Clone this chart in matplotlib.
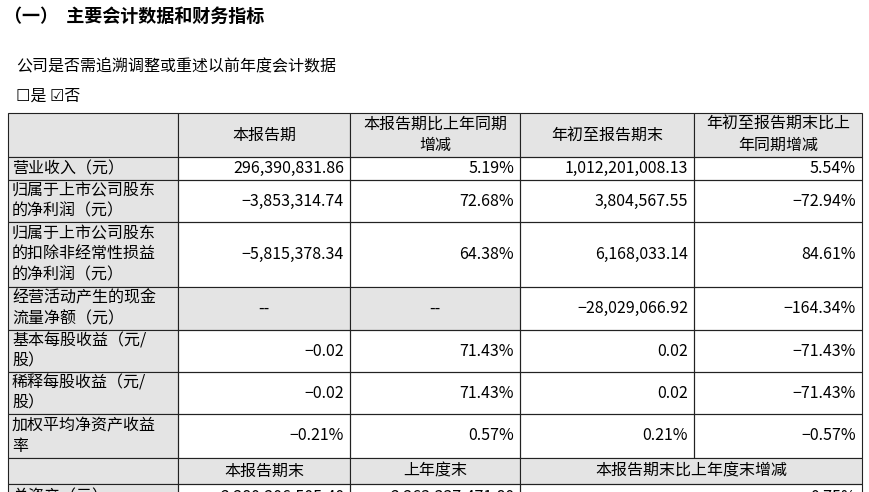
import matplotlib
matplotlib.use("Agg")
import matplotlib.pyplot as plt
from matplotlib.patches import Rectangle

plt.rcParams["font.family"] = ["Noto Sans CJK SC", "DejaVu Sans"]

title = "（一）  主要会计数据和财务指标"
subtitle = "公司是否需追溯调整或重述以前年度会计数据"
checkbox = "☐是 ☑否"
headers = ["", "本报告期", "本报告期比上年同期\n增减", "年初至报告期末", "年初至报告期末比上\n年同期增减"]
row_labels = ["营业收入（元）", "归属于上市公司股东\n的净利润（元）", "归属于上市公司股东\n的扣除非经常性损益\n的净利润（元）",
              "经营活动产生的现金\n流量净额（元）", "基本每股收益（元/\n股）", "稀释每股收益（元/\n股）", "加权平均净资产收益\n率"]
col_current = ["296,390,831.86", "-3,853,314.74", "-5,815,378.34", "--", "-0.02", "-0.02", "-0.21%"]
col_current_chg = ["5.19%", "72.68%", "64.38%", "--", "71.43%", "71.43%", "0.57%"]
col_ytd = ["1,012,201,008.13", "3,804,567.55", "6,168,033.14", "-28,029,066.92", "0.02", "0.02", "0.21%"]
col_ytd_chg = ["5.54%", "-72.94%", "84.61%", "-164.34%", "-71.43%", "-71.43%", "-0.57%"]
headers2 = ["", "本报告期末", "上年度末", "本报告期末比上年度末增减"]
last_row = ["总资产（元）", "2,280,206,505.40", "2,263,337,471.80", "0.75%"]

W, H = 870, 492
fig = plt.figure(figsize=(W/100, H/100), dpi=100)
ax = fig.add_axes([0, 0, 1, 1])
ax.set_xlim(0, W); ax.set_ylim(H, 0); ax.axis("off")

xs = [8, 178, 350, 520, 694, 862]
ys = [113, 157, 180, 222, 287, 330, 372, 414, 458, 484, 510]
grey = "#e4e4e4"
fs = 11.5

ax.text(4, 16, title, fontsize=13, fontweight="bold", va="center")
ax.text(16, 67, subtitle, fontsize=fs, va="center")
ax.text(16, 96, checkbox, fontsize=fs, va="center")

def rect(x0, y0, x1, y1, fill=None):
    ax.add_patch(Rectangle((x0, y0), x1-x0, y1-y0, facecolor=fill if fill else "none",
                           edgecolor="#222222", lw=0.8, zorder=1))

for i in range(5):
    rect(xs[i], ys[0], xs[i+1], ys[1], grey)
    if headers[i]:
        ax.text((xs[i]+xs[i+1])/2, (ys[0]+ys[1])/2, headers[i], fontsize=fs, ha="center", va="center",
                linespacing=1.3, zorder=3)
cols = [col_current, col_current_chg, col_ytd, col_ytd_chg]
for r in range(7):
    y0, y1 = ys[r+1], ys[r+2]
    rect(xs[0], y0, xs[1], y1, grey)
    ax.text(xs[0]+4, (y0+y1)/2, row_labels[r], fontsize=fs, ha="left", va="center", linespacing=1.3, zorder=3)
    for c in range(4):
        v = cols[c][r]
        fill = grey if v == "--" else None
        rect(xs[c+1], y0, xs[c+2], y1, fill)
        if v == "--":
            ax.text((xs[c+1]+xs[c+2])/2, (y0+y1)/2, v, fontsize=fs, ha="center", va="center", zorder=3)
        else:
            ax.text(xs[c+2]-6, (y0+y1)/2, v.replace("-", "−"), fontsize=fs, ha="right", va="center", zorder=3)
xs2 = [xs[0], xs[1], xs[2], xs[3], xs[5]]
for i in range(4):
    rect(xs2[i], ys[8], xs2[i+1], ys[9], grey)
    if headers2[i]:
        ax.text((xs2[i]+xs2[i+1])/2, (ys[8]+ys[9])/2, headers2[i], fontsize=fs, ha="center", va="center", zorder=3)
for i in range(4):
    rect(xs2[i], ys[9], xs2[i+1], ys[10], grey if i == 0 else None)
    if i == 0:
        ax.text(xs2[0]+4, ys[9]+13, last_row[0], fontsize=fs, ha="left", va="center", zorder=3)
    else:
        ax.text(xs2[i+1]-6, ys[9]+13, last_row[i], fontsize=fs, ha="right", va="center", zorder=3)

fig.savefig("out.png", dpi=100)
